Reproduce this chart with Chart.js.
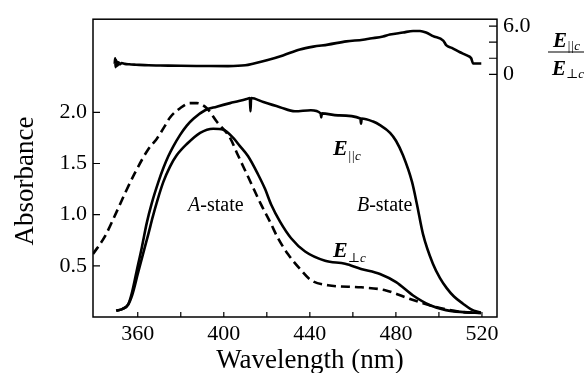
<!DOCTYPE html>
<html>
<head>
<meta charset="utf-8">
<script src="https://cdn.jsdelivr.net/npm/chart.js@4.4.0/dist/chart.umd.min.js"></script>
<style>
  html, body { margin: 0; padding: 0; background: #fff; }
  #wrap { width: 584px; height: 373px; }
</style>
</head>
<body>
<div id="wrap"><canvas id="chart"></canvas></div>
<script>
// E || c absorbance
const wlPar = [350, 353, 355.5, 357.2, 359.5, 361.9, 364.2, 366.5, 369.6, 372, 374.2, 376.6, 379.7, 382.8, 386, 391.3, 396.7, 402.9, 407, 410.6, 412.1, 412.4, 412.7, 418.4, 426.1, 433.1, 440.5, 445, 445.3, 445.6, 453.1, 463.5, 463.8, 464.1, 469.4, 472.6, 477.3, 480.1, 483.3, 487.5, 489.8, 492.6, 497.2, 500.5, 503.7, 507, 511.2, 515, 519.5];
const absPar = [0.06, 0.08, 0.12, 0.23, 0.45, 0.68, 0.92, 1.11, 1.32, 1.46, 1.57, 1.67, 1.78, 1.87, 1.94, 2.02, 2.055, 2.09, 2.11, 2.13, 2.14, 2.01, 2.14, 2.10, 2.05, 2.01, 2.02, 1.99, 1.95, 1.99, 1.97, 1.94, 1.89, 1.94, 1.91, 1.875, 1.80, 1.72, 1.58, 1.32, 1.10, 0.81, 0.52, 0.38, 0.28, 0.2, 0.13, 0.075, 0.04];

// E perp c absorbance
const wlPerp = [350, 353, 355.5, 357.5, 360, 362.5, 364.8, 367, 369, 371.9, 375, 378.1, 382.8, 389, 395.1, 399.8, 404.4, 407.5, 411.3, 416, 419.2, 422, 426.2, 431.3, 437.8, 447.1, 456.4, 463.8, 472.6, 480.1, 488, 495.9, 503.3, 511.2, 519.5];
const absPerp = [0.06, 0.08, 0.12, 0.22, 0.42, 0.62, 0.80, 0.98, 1.13, 1.32, 1.47, 1.58, 1.69, 1.80, 1.84, 1.83, 1.75, 1.67, 1.57, 1.39, 1.25, 1.10, 0.93, 0.77, 0.64, 0.55, 0.52, 0.47, 0.42, 0.34, 0.21, 0.115, 0.067, 0.048, 0.04];

// dashed curve
const wlDash = [339.2, 344.8, 350, 354.1, 359, 364.9, 368.8, 372.7, 375, 379.7, 384.3, 387.4, 392.1, 396.7, 402.9, 406.6, 411.3, 417.3, 421.5, 425.2, 429.8, 435.4, 440.5, 448.4, 463.8, 475.4, 484.7, 492.6, 500.5, 511.2, 519.5];
const absDash = [0.615, 0.79, 1.02, 1.21, 1.42, 1.64, 1.74, 1.87, 1.95, 2.04, 2.09, 2.09, 2.04, 1.91, 1.75, 1.58, 1.37, 1.10, 0.93, 0.77, 0.615, 0.47, 0.36, 0.31, 0.29, 0.26, 0.19, 0.135, 0.087, 0.048, 0.04];

// ratio E||c / Eperp c (top panel)
const wlRatio = [349.3, 349.5, 349.7, 349.9, 350.1, 350.4, 350.7, 351.1, 351.6, 352.5, 354, 356, 359.2, 365, 370.4, 380, 390, 402, 410, 414, 420, 427.5, 435.4, 441.6, 448.4, 457, 464.7, 468, 474, 477.2, 483.3, 488, 491.2, 494, 497.3, 502, 503.5, 506, 509.8, 513, 515, 515.9, 519.7];
const ratio = [1.3, 2.0, 0.9, 1.8, 1.0, 1.6, 1.1, 1.5, 1.25, 1.4, 1.3, 1.25, 1.2, 1.12, 1.1, 1.06, 1.04, 1.02, 1.12, 1.35, 1.75, 2.35, 3.1, 3.45, 3.7, 4.1, 4.3, 4.45, 4.7, 4.95, 5.2, 5.4, 5.39, 5.2, 4.75, 4.2, 3.6, 3.3, 2.75, 2.35, 2.0, 1.35, 1.35];

const xTicks = [360, 380, 400, 420, 440, 460, 480, 500, 520];
const absTicks = [0.5, 1.0, 1.5, 2.0];
const ratioTicks = [0, 2, 4, 6];

const SERIF = '"Liberation Serif", "DejaVu Serif", serif';
const pts = (xs, ys) => xs.map((x, i) => ({ x: x, y: ys[i] }));

function runs(ctx, x, y, parts) {
  let cx = x;
  parts.forEach(p => {
    ctx.font = p.f;
    ctx.fillText(p.t, cx, y + (p.dy || 0));
    cx += ctx.measureText(p.t).width;
  });
}

const decor = {
  id: 'decor',
  afterDraw(chart) {
    const { ctx, chartArea: a, scales } = chart;
    const xs = scales.x, ys = scales.y, ys2 = scales.y2;
    ctx.save();
    ctx.strokeStyle = '#000';
    ctx.fillStyle = '#000';
    ctx.lineWidth = 1.5;
    ctx.strokeRect(a.left, a.top, a.right - a.left, a.bottom - a.top);

    // inward ticks
    ctx.lineWidth = 1.2;
    ctx.beginPath();
    xTicks.forEach(v => {
      const px = xs.getPixelForValue(v);
      ctx.moveTo(px, a.bottom);
      ctx.lineTo(px, a.bottom - 5);
    });
    absTicks.forEach(v => {
      const py = ys.getPixelForValue(v);
      ctx.moveTo(a.left, py);
      ctx.lineTo(a.left + 7, py);
    });
    ratioTicks.forEach(v => {
      const py = ys2.getPixelForValue(v);
      ctx.moveTo(a.right, py);
      ctx.lineTo(a.right - 8, py);
    });
    ctx.stroke();

    // axis titles
    ctx.textAlign = 'center';
    ctx.textBaseline = 'alphabetic';
    ctx.font = '27px ' + SERIF;
    ctx.fillText('Wavelength (nm)', 310, 368);
    ctx.save();
    ctx.translate(33, 181);
    ctx.rotate(-Math.PI / 2);
    ctx.fillText('Absorbance', 0, 0);
    ctx.restore();

    // curve labels
    ctx.textAlign = 'left';
    const px = v => xs.getPixelForValue(v);
    const py = v => ys.getPixelForValue(v);
    runs(ctx, px(450.8), py(1.587), [
      { t: 'E', f: 'bold italic 22px ' + SERIF },
      { t: '||c', f: 'italic 13px ' + SERIF, dy: 5 }
    ]);
    runs(ctx, px(450.8), py(0.587), [
      { t: 'E', f: 'bold italic 22px ' + SERIF },
      { t: '\u22A5c', f: 'italic 13px ' + SERIF, dy: 5 }
    ]);
    runs(ctx, px(383.4), py(1.038), [
      { t: 'A', f: 'italic 20px ' + SERIF },
      { t: '-state', f: '20px ' + SERIF }
    ]);
    runs(ctx, px(461.9), py(1.038), [
      { t: 'B', f: 'italic 20px ' + SERIF },
      { t: '-state', f: '20px ' + SERIF }
    ]);

    // right fraction label
    runs(ctx, 553, 47, [
      { t: 'E', f: 'bold italic 21px ' + SERIF },
      { t: '||c', f: 'italic 13px ' + SERIF, dy: 3 }
    ]);
    runs(ctx, 552, 75, [
      { t: 'E', f: 'bold italic 21px ' + SERIF },
      { t: '\u22A5c', f: 'italic 13px ' + SERIF, dy: 3 }
    ]);
    ctx.lineWidth = 1.2;
    ctx.beginPath();
    ctx.moveTo(548, 52);
    ctx.lineTo(584, 52);
    ctx.stroke();
    ctx.restore();
  }
};

const line = (data, axis, dash) => ({
  data: data,
  yAxisID: axis,
  borderColor: '#000',
  borderWidth: 2.6,
  borderDash: dash || [],
  pointRadius: 0,
  fill: false,
  cubicInterpolationMode: 'monotone'
});

const tickFont = { family: SERIF, size: 22 };
const noGrid = { display: false, drawTicks: false };

new Chart(document.getElementById('chart'), {
  type: 'line',
  data: {
    datasets: [
      line(pts(wlPar, absPar), 'y'),
      line(pts(wlPerp, absPerp), 'y'),
      line(pts(wlDash, absDash), 'y', [9, 5]),
      line(pts(wlRatio, ratio), 'y2')
    ]
  },
  options: {
    responsive: true,
    maintainAspectRatio: false,
    animation: false,
    devicePixelRatio: 1,
    layout: { padding: { top: 14, left: 0, right: 0, bottom: 0 } },
    plugins: { legend: { display: false }, tooltip: { enabled: false } },
    scales: {
      x: {
        type: 'linear',
        min: 339.2,
        max: 527,
        afterBuildTicks: s => { s.ticks = xTicks.map(v => ({ value: v })); },
        afterFit: s => { s.height = 56; },
        grid: noGrid,
        border: { display: false },
        ticks: {
          autoSkip: false,
          maxRotation: 0,
          padding: 4,
          color: '#000',
          font: tickFont,
          callback: v => (v % 40 === 0 ? String(v) : '')
        }
      },
      y: {
        position: 'left',
        min: 0,
        max: 2.91,
        afterBuildTicks: s => { s.ticks = absTicks.map(v => ({ value: v })); },
        afterFit: s => { s.width = 93; },
        grid: noGrid,
        border: { display: false },
        ticks: {
          padding: 6,
          color: '#000',
          font: tickFont,
          callback: v => v.toFixed(1)
        }
      },
      y2: {
        position: 'right',
        min: -30.2,
        max: 6.86,
        afterBuildTicks: s => { s.ticks = ratioTicks.map(v => ({ value: v })); },
        afterFit: s => { s.width = 87; },
        grid: noGrid,
        border: { display: false },
        ticks: {
          padding: 6,
          color: '#000',
          font: tickFont,
          callback: v => (v === 0 ? '0' : v === 6 ? '6.0' : '')
        }
      }
    }
  },
  plugins: [decor]
});
</script>
</body>
</html>
